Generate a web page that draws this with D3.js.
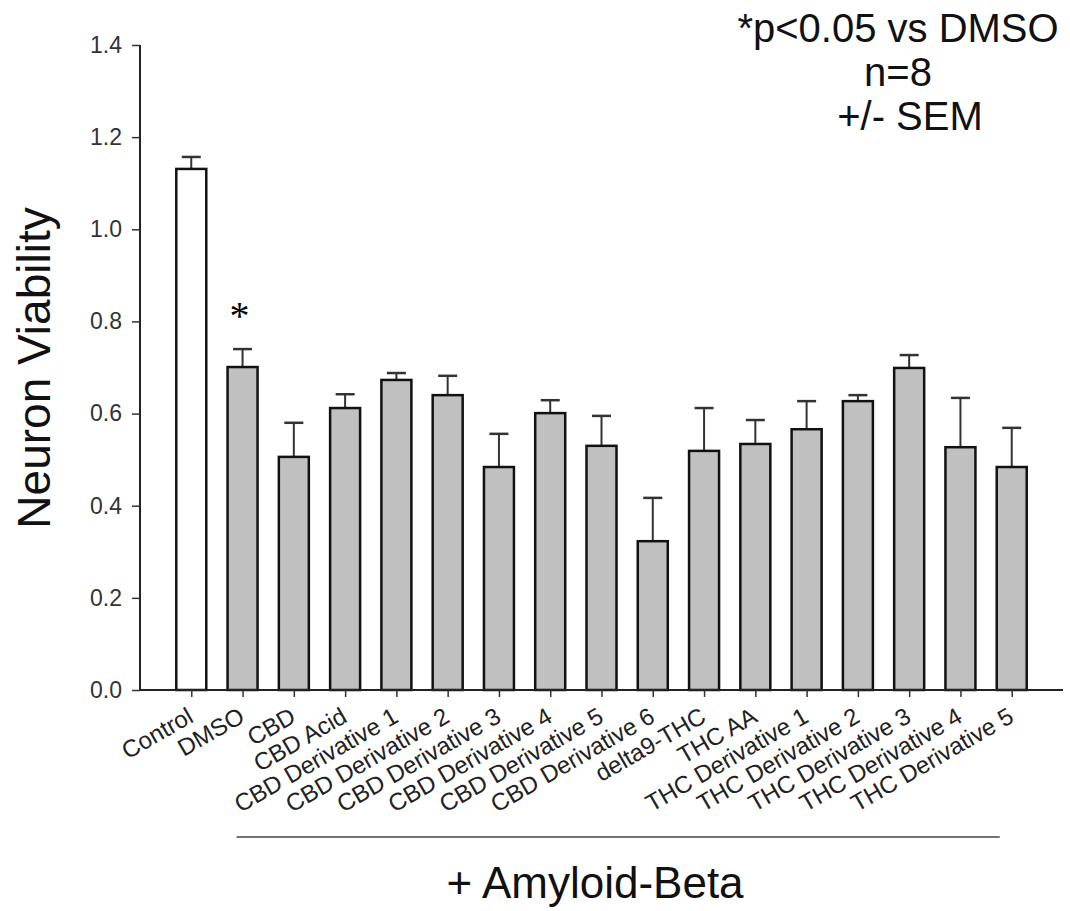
<!DOCTYPE html>
<html>
<head>
<meta charset="utf-8">
<script src="https://cdn.jsdelivr.net/npm/d3@7"></script>
<style>
  body { margin: 0; background: #fff; }
  svg text { font-family: "Liberation Sans", Arial, sans-serif; }
</style>
</head>
<body>
<svg id="main"></svg>
<script>
var groups = ["Control", "DMSO", "CBD", "CBD Acid", "CBD Derivative 1", "CBD Derivative 2",
  "CBD Derivative 3", "CBD Derivative 4", "CBD Derivative 5", "CBD Derivative 6",
  "delta9-THC", "THC AA", "THC Derivative 1", "THC Derivative 2", "THC Derivative 3",
  "THC Derivative 4", "THC Derivative 5"];
var means = [1.131, 0.701, 0.506, 0.612, 0.673, 0.640, 0.484, 0.601, 0.530, 0.323,
  0.519, 0.534, 0.566, 0.627, 0.699, 0.527, 0.484];
var sems = [0.026, 0.039, 0.074, 0.030, 0.015, 0.042, 0.072, 0.028, 0.065, 0.094,
  0.093, 0.052, 0.061, 0.013, 0.028, 0.107, 0.085];
var yTicks = [0, 0.2, 0.4, 0.6, 0.8, 1.0, 1.2, 1.4];
var significant = ["DMSO"];
var noteLines = ["*p<0.05 vs DMSO", "n=8", "+/- SEM"];

var w = 1070;
var h = 911;
var padLeft = 140;
var padRight = 1063;
var padTop = 45;
var axisY = 690;

var svg = d3.select("#main")
  .attr("width", w)
  .attr("height", h);

var data = groups.map(function(g, i) {
  return { name: g, mean: means[i], sem: sems[i] };
});

var xScale = d3.scalePoint()
  .domain(groups)
  .range([padLeft, padRight])
  .padding(1);

var yScale = d3.scaleLinear()
  .domain([0, 1.4])
  .range([axisY, padTop]);

var barW = 30;
var capW = 19;

// error bars (upper half only)
svg.selectAll(".err")
  .data(data)
  .enter()
  .append("line")
  .attr("x1", function(d) { return xScale(d.name); })
  .attr("x2", function(d) { return xScale(d.name); })
  .attr("y1", function(d) { return yScale(d.mean); })
  .attr("y2", function(d) { return yScale(d.mean + d.sem); })
  .attr("stroke", "#333")
  .attr("stroke-width", 2);

svg.selectAll(".cap")
  .data(data)
  .enter()
  .append("line")
  .attr("x1", function(d) { return xScale(d.name) - capW / 2; })
  .attr("x2", function(d) { return xScale(d.name) + capW / 2; })
  .attr("y1", function(d) { return yScale(d.mean + d.sem); })
  .attr("y2", function(d) { return yScale(d.mean + d.sem); })
  .attr("stroke", "#333")
  .attr("stroke-width", 2.5);

svg.selectAll(".bar")
  .data(data)
  .enter()
  .append("rect")
  .attr("x", function(d) { return xScale(d.name) - barW / 2; })
  .attr("y", function(d) { return yScale(d.mean); })
  .attr("width", barW)
  .attr("height", function(d) { return axisY - yScale(d.mean); })
  .attr("fill", function(d, i) { return i == 0 ? "#fff" : "#c0c0c0"; })
  .attr("stroke", "#111")
  .attr("stroke-width", 2.5);

// significance marks
svg.selectAll(".star")
  .data(data.filter(function(d) { return significant.indexOf(d.name) >= 0; }))
  .enter()
  .append("text")
  .attr("x", function(d) { return xScale(d.name) - 3; })
  .attr("y", function(d) { return yScale(d.mean + d.sem) - 20; })
  .attr("text-anchor", "middle")
  .style("font-family", "'Liberation Serif', 'Times New Roman', serif")
  .style("font-size", "40px")
  .attr("fill", "#000")
  .text("*");

// axes
var xAxis = d3.axisBottom(xScale).tickSize(7).tickFormat("");
var gx = svg.append("g")
  .attr("transform", "translate(0," + axisY + ")")
  .call(xAxis);
gx.select(".domain").attr("d", "M" + padLeft + ",0H" + padRight).attr("stroke", "#222").attr("stroke-width", 2);
gx.selectAll(".tick line").attr("stroke", "#333").attr("stroke-width", 1.5);

gx.selectAll(".tick")
  .append("text")
  .attr("transform", "translate(3,31) rotate(-30)")
  .attr("text-anchor", "end")
  .attr("fill", "#222")
  .style("font-size", "24px")
  .text(function(d) { return d; });

var yAxis = d3.axisLeft(yScale)
  .tickValues(yTicks)
  .tickSize(8)
  .tickPadding(10)
  .tickFormat(d3.format(".1f"));
var gy = svg.append("g")
  .attr("transform", "translate(" + padLeft + ",0)")
  .call(yAxis);
gy.select(".domain").attr("d", "M0," + padTop + "V" + axisY).attr("stroke", "#222").attr("stroke-width", 2);
gy.selectAll(".tick line").attr("stroke", "#333").attr("stroke-width", 1.5);
gy.selectAll(".tick text")
  .attr("fill", "#333")
  .style("font-size", "23px");

// axis titles
svg.append("text")
  .attr("transform", "translate(50,368) rotate(-90)")
  .attr("text-anchor", "middle")
  .attr("fill", "#111")
  .style("font-size", "46px")
  .text("Neuron Viability");

svg.append("line")
  .attr("x1", xScale("DMSO") - 6)
  .attr("x2", xScale("THC Derivative 5") - 12)
  .attr("y1", 837)
  .attr("y2", 837)
  .attr("stroke", "#444")
  .attr("stroke-width", 1.5);

svg.append("text")
  .attr("x", 595)
  .attr("y", 898)
  .attr("text-anchor", "middle")
  .attr("fill", "#111")
  .style("font-size", "44px")
  .text("+ Amyloid-Beta");

// note in the corner
svg.selectAll(".note")
  .data(noteLines)
  .enter()
  .append("text")
  .attr("x", function(d, i) { return i == 2 ? 910 : 898; })
  .attr("y", function(d, i) { return 42 + i * 44; })
  .attr("text-anchor", "middle")
  .attr("fill", "#111")
  .style("font-size", "40px")
  .text(function(d) { return d; });
</script>
</body>
</html>
